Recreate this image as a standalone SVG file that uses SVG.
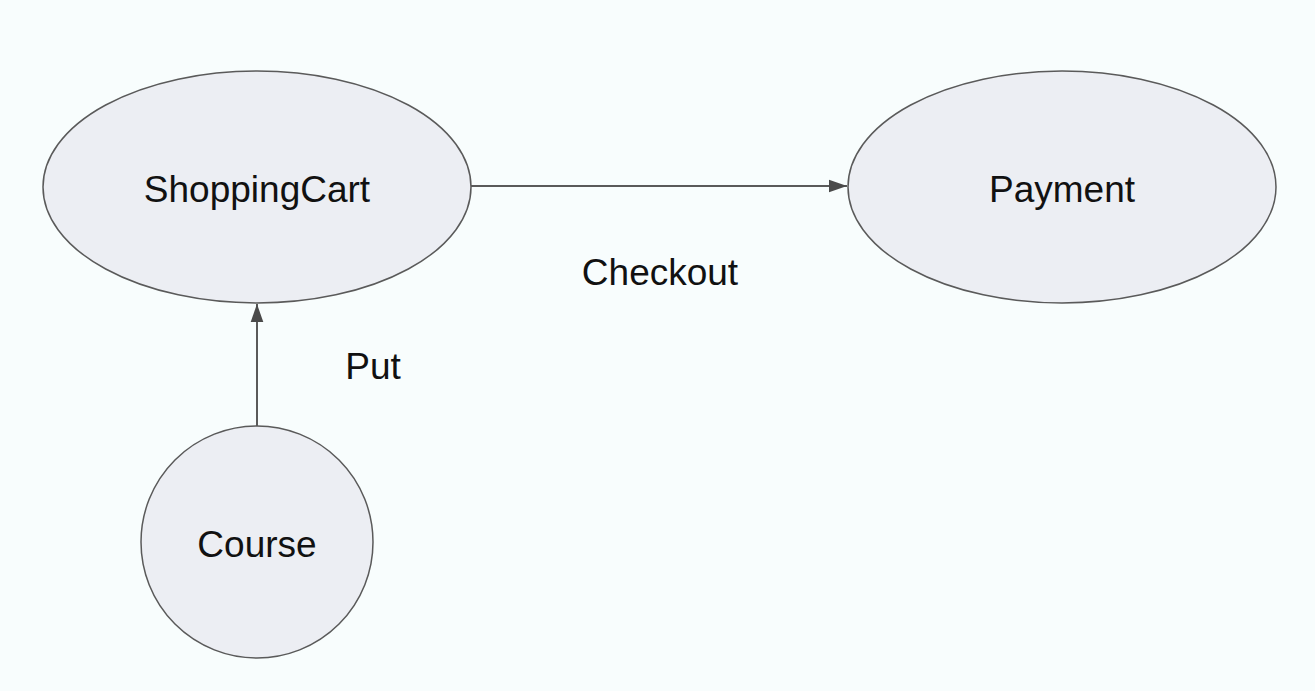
<svg xmlns="http://www.w3.org/2000/svg" width="1315" height="691" viewBox="0 0 1315 691">
<defs>
<style>
.node{fill:#eceef3;stroke:#5a5a5a;stroke-width:1.5}
.lbl{font-family:"Liberation Sans",Arial,sans-serif;font-size:37px;fill:#111;text-anchor:middle}
.edge{stroke:#5a5a5a;stroke-width:2;fill:none}
</style>
<marker id="ah2" viewBox="0 0 10 10" refX="10" refY="5" markerWidth="18" markerHeight="18" markerUnits="userSpaceOnUse" orient="auto">
<path d="M0,1.5 L10,5 L0,8.5 z" fill="#4a4a4a"/>
</marker>
</defs>
<rect width="1315" height="691" fill="#f8fdfd"/>
<g id="connectors">
<line class="edge" x1="471" y1="186" x2="847" y2="186" marker-end="url(#ah2)"/>
<line class="edge" x1="257" y1="426" x2="257" y2="304" marker-end="url(#ah2)"/>
<text class="lbl" x="660" y="285">Checkout</text>
<text class="lbl" x="373" y="379">Put</text>
</g>
<g id="ShoppingCart">
<ellipse class="node" cx="257" cy="187" rx="214" ry="116"/>
<text class="lbl" x="257" y="202">ShoppingCart</text>
</g>
<g id="Payment">
<ellipse class="node" cx="1062" cy="187" rx="214" ry="116"/>
<text class="lbl" x="1062" y="202">Payment</text>
</g>
<g id="Course">
<circle class="node" cx="257" cy="542" r="116"/>
<text class="lbl" x="257" y="557">Course</text>
</g>
</svg>
